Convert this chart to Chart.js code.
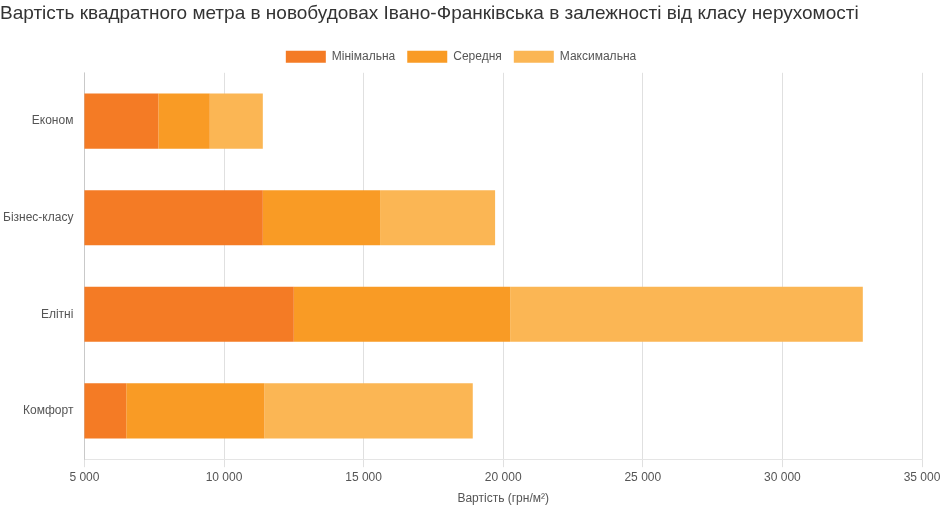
<!doctype html>
<html>
<head>
  <meta charset="utf-8" />
  <script src="https://cdn.jsdelivr.net/npm/chart.js"></script>
  <style>
    body { margin: 0; background: #fff; font-family: Arial, "Liberation Sans", sans-serif; }
    .wrap { position: relative; width: 948px; height: 512px; }
  </style>
</head>
<body>
  <div class="wrap"><canvas id="chart"></canvas></div>
  <script>
    const categories = ["Економ", "Бізнес-класу", "Елітні", "Комфорт"];
    const seriesNames = ["Мінімальна", "Середня", "Максимальна"];
    // stacked segments (grn/m2)
    const minValues = [7650, 11390, 12500, 6500];
    const midValues = [1840, 4200, 7750, 4950];
    const maxValues = [1900, 4120, 12630, 7460];
    const colors = ["#F47B25", "#F99B25", "#FBB654"];

    Chart.defaults.font.family = "Arial, 'Liberation Sans', sans-serif";
    Chart.defaults.color = "#555";

    new Chart(document.getElementById("chart"), {
      type: "bar",
      data: {
        labels: categories,
        datasets: [minValues, midValues, maxValues].map((d, i) => ({
          label: seriesNames[i], data: d, backgroundColor: colors[i],
          barPercentage: 0.57, categoryPercentage: 1
        }))
      },
      options: {
        indexAxis: "y",
        responsive: true,
        maintainAspectRatio: false,
        animation: false,
        layout: { padding: { left: 0, right: 26, top: 2, bottom: 2 } },
        plugins: {
          title: {
            display: true, align: "start",
            text: "Вартість квадратного метра в новобудовах Івано-Франківська в залежності від класу нерухомості",
            font: { size: 19, weight: "normal" }, color: "#333",
            padding: { top: 0, bottom: 14 }
          },
          legend: {
            labels: { boxWidth: 40, boxHeight: 12, font: { size: 12 }, color: "#555", padding: 12 }
          }
        },
        scales: {
          x: {
            stacked: true, min: 5000, max: 35000,
            ticks: { stepSize: 5000, font: { size: 12 },
              callback: v => v.toLocaleString("uk-UA").replace(/\s/g, " ") },
            grid: { color: "#e0e0e0" },
            title: { display: true, text: "Вартість (грн/м²)", font: { size: 12 } }
          },
          y: {
            stacked: true,
            ticks: { font: { size: 12 } },
            grid: { display: false }
          }
        }
      }
    });
  </script>
</body>
</html>
